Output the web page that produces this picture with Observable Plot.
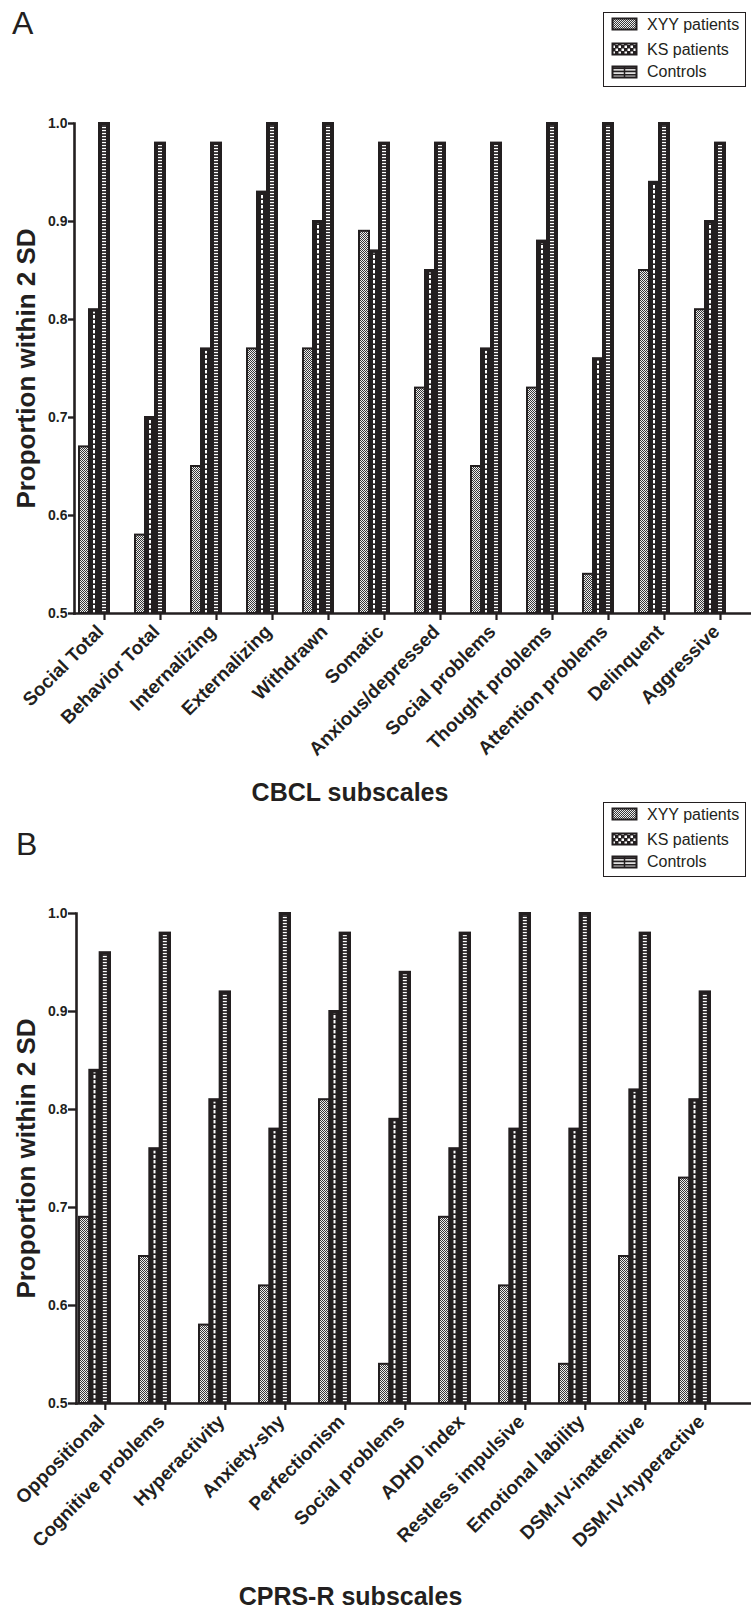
<!DOCTYPE html>
<html>
<head>
<meta charset="utf-8">
<script src="https://cdn.jsdelivr.net/npm/d3@7"></script>
<script src="https://cdn.jsdelivr.net/npm/@observablehq/plot@0.6"></script>
<style>
  html, body { margin: 0; padding: 0; background: #fff; }
  body { width: 751px; font-family: Arial, "Liberation Sans", Helvetica, sans-serif; color: #231f20; }
  .panel { position: relative; width: 751px; }
  .panel > svg { display: block; }
  .letter { position: absolute; font-size: 32px; line-height: 1; }
  svg text { font-family: Arial, "Liberation Sans", Helvetica, sans-serif; }
</style>
</head>
<body>
<svg width="0" height="0" style="position:absolute">
  <defs>
    <pattern id="pXYY" width="2" height="2" patternUnits="userSpaceOnUse">
      <rect width="2" height="2" fill="#eeeeee"/>
      <rect width="1" height="1" fill="#383838"/>
      <rect x="1" y="1" width="1" height="1" fill="#383838"/>
    </pattern>
    <pattern id="pKS" width="10" height="5" patternUnits="userSpaceOnUse">
      <rect width="10" height="5" fill="#231f20"/>
      <rect width="10" height="3.4" fill="#ffffff"/>
    </pattern>
    <pattern id="pCtrl" width="10" height="3" patternUnits="userSpaceOnUse">
      <rect width="10" height="3" fill="#231f20"/>
      <rect y="0.9" width="10" height="1.3" fill="#ffffff"/>
    </pattern>
    <pattern id="pKSsw" width="6" height="6" patternUnits="userSpaceOnUse">
      <rect width="6" height="6" fill="#231f20"/>
      <rect x="0.5" y="0.5" width="2.5" height="2.5" fill="#ffffff"/>
      <rect x="3.5" y="3.5" width="2.5" height="2.5" fill="#ffffff"/>
    </pattern>
    <pattern id="pCtrlsw" width="6" height="3.3" patternUnits="userSpaceOnUse">
      <rect width="6" height="3.3" fill="#231f20"/>
      <rect y="1" width="6" height="1.4" fill="#ffffff"/>
    </pattern>
  </defs>
</svg>
<div id="panelA" class="panel"></div>
<div id="panelB" class="panel"></div>
<script>
// ---------- data ----------
const series = ["XYY patients", "KS patients", "Controls"];
const yTicks = [0.5, 0.6, 0.7, 0.8, 0.9, 1.0];

const cbclCats = ["Social Total", "Behavior Total", "Internalizing", "Externalizing", "Withdrawn", "Somatic",
  "Anxious/depressed", "Social problems", "Thought problems", "Attention problems", "Delinquent", "Aggressive"];
const cbclXYY  = [0.67, 0.58, 0.65, 0.77, 0.77, 0.89, 0.73, 0.65, 0.73, 0.54, 0.85, 0.81];
const cbclKS   = [0.81, 0.70, 0.77, 0.93, 0.90, 0.87, 0.85, 0.77, 0.88, 0.76, 0.94, 0.90];
const cbclCtrl = [1.00, 0.98, 0.98, 1.00, 1.00, 0.98, 0.98, 0.98, 1.00, 1.00, 1.00, 0.98];

const cprsCats = ["Oppositional", "Cognitive problems", "Hyperactivity", "Anxiety-shy", "Perfectionism",
  "Social problems", "ADHD index", "Restless impulsive", "Emotional lability", "DSM-IV-inattentive", "DSM-IV-hyperactive"];
const cprsXYY  = [0.69, 0.65, 0.58, 0.62, 0.81, 0.54, 0.69, 0.62, 0.54, 0.65, 0.73];
const cprsKS   = [0.84, 0.76, 0.81, 0.78, 0.90, 0.79, 0.76, 0.78, 0.78, 0.82, 0.81];
const cprsCtrl = [0.96, 0.98, 0.92, 1.00, 0.98, 0.94, 0.98, 1.00, 1.00, 0.98, 0.92];

const INK = "#231f20";
const FONT = 'Arial, "Liberation Sans", Helvetica, sans-serif';

function legendSVG() {
  const ns = "http://www.w3.org/2000/svg";
  const rows = [
    {label: series[0], fill: "url(#pXYY)"},
    {label: series[1], fill: "url(#pKSsw)"},
    {label: series[2], fill: "url(#pCtrlsw)"}
  ];
  let s = `<svg xmlns="${ns}" width="144" height="76" style="position:absolute;left:603px;top:12px">`;
  s += `<rect x="0.5" y="0.5" width="142" height="74" fill="#fff" stroke="${INK}" stroke-width="1"/>`;
  const ys = [6, 31, 54];
  const bs = [18, 43, 65];
  rows.forEach((r, i) => {
    s += `<rect x="9.5" y="${ys[i] + 0.5}" width="24" height="11" fill="${r.fill}" stroke="${INK}" stroke-width="2"/>`;
    if (i === 2) s += `<line x1="21.5" x2="21.5" y1="${ys[i]}" y2="${ys[i] + 12}" stroke="${INK}" stroke-width="1.5"/>`;
    s += `<text x="44" y="${bs[i]}" font-size="16" fill="${INK}" font-family='${FONT}'>${r.label}</text>`;
  });
  s += `</svg>`;
  return s;
}

function panel(el, letter, letterTop, letterLeft, cats, xyy, ks, ctrl, cfg) {
  const data = cats.flatMap((c, i) => [
    {cat: c, group: series[0], v: xyy[i]},
    {cat: c, group: series[1], v: ks[i]},
    {cat: c, group: series[2], v: ctrl[i]}
  ]);
  const n = cats.length;
  const R = cfg.width - cfg.ml;
  const s = cfg.step, b = cfg.band;
  const pi = 1 - b / s;
  const po = (R / s - n + pi) / 2;
  const L = R - s * (n - 1) - b;
  const align = cfg.leftGap / L;
  const w = b / 3;
  const yMin = yTicks[0];
  const by = g => data.filter(d => d.group === g);

  const chart = Plot.plot({
    width: cfg.width,
    height: cfg.height,
    marginLeft: cfg.ml,
    marginRight: 0,
    marginTop: cfg.mt,
    marginBottom: cfg.mb,
    style: {fontFamily: FONT, color: INK, background: "transparent", overflow: "visible"},
    x: {domain: cats, paddingInner: pi, paddingOuter: po, align, axis: null},
    y: {domain: [yMin, yTicks[yTicks.length - 1]], axis: null},
    marks: [
      // XYY bars
      Plot.barY(by(series[0]), {x: "cat", y1: yMin, y2: "v", fill: "url(#pXYY)", stroke: INK, strokeWidth: 2,
        insetLeft: 0, insetRight: 2 * w}),
      // KS bars
      Plot.barY(by(series[1]), {x: "cat", y1: yMin, y2: "v", fill: INK, stroke: INK, strokeWidth: 2,
        insetLeft: w, insetRight: w}),
      Plot.barY(by(series[1]), {x: "cat", y1: yMin, y2: "v", fill: "url(#pKS)",
        insetLeft: b / 2 - 1, insetRight: b / 2 - 1, insetTop: 2.5}),
      // Controls bars
      Plot.barY(by(series[2]), {x: "cat", y1: yMin, y2: "v", fill: INK, stroke: INK, strokeWidth: 2,
        insetLeft: 2 * w, insetRight: 0}),
      Plot.barY(by(series[2]), {x: "cat", y1: yMin, y2: "v", fill: "url(#pCtrl)",
        insetLeft: 5 * b / 6 - 2, insetRight: b / 6 - 2, insetTop: 2.5}),
      // axes
      Plot.frame({anchor: "left", stroke: INK, strokeWidth: 2.6}),
      Plot.frame({anchor: "bottom", stroke: INK, strokeWidth: 2.6}),
      Plot.axisY({ticks: yTicks, tickFormat: d => d.toFixed(1), tickSize: cfg.yTick, tickPadding: 1,
        fontSize: 14, fontWeight: "bold", stroke: INK, strokeWidth: 2.4, fill: INK, label: null}),
      // x tick marks (at the Controls bar of each group)
      Plot.axisX({tickSize: 7, dx: w, tickFormat: () => "", stroke: INK, strokeWidth: 2.2, label: null}),
      // x tick labels
      Plot.axisX({tickRotate: -45, tickSize: 0, tickPadding: cfg.xPad, dx: w + cfg.xLabDx, fontSize: 19,
        fontWeight: "bold", fill: INK, label: null}),
      Plot.text([cfg.yLabel], {text: d => d, frameAnchor: "left", dx: cfg.yLabelDx, rotate: -90,
        fontSize: 26, fontWeight: "bold", fill: INK, textAnchor: "middle", lineAnchor: "middle"}),
      Plot.text([cfg.xLabel], {text: d => d, frameAnchor: "bottom-left", dx: cfg.xLabelDx, dy: cfg.xLabelDy,
        fontSize: 25, fontWeight: "bold", fill: INK, textAnchor: "middle", lineAnchor: "bottom"})
    ]
  });
  el.appendChild(chart);
  const lt = document.createElement("div");
  lt.className = "letter";
  lt.style.top = letterTop + "px";
  lt.style.left = letterLeft + "px";
  lt.textContent = letter;
  el.appendChild(lt);
  el.insertAdjacentHTML("beforeend", legendSVG());
}

panel(document.getElementById("panelA"), "A", 7, 12, cbclCats, cbclXYY, cbclKS, cbclCtrl, {
  width: 751, height: 790, ml: 74, mt: 123, mb: 177,
  step: 56.36, band: 30, leftGap: 4, yTick: 6, xPad: 15, xLabDx: -4,
  yLabel: "Proportion within 2 SD", yLabelDx: -48,
  xLabel: "CBCL subscales", xLabelDx: 275.5, xLabelDy: 187
});
panel(document.getElementById("panelB"), "B", 38, 16, cprsCats, cprsXYY, cprsKS, cprsCtrl, {
  width: 751, height: 818, ml: 76, mt: 123, mb: 205,
  step: 60.6, band: 31, leftGap: 3, yTick: 8, xPad: 15, xLabDx: -4,
  yLabel: "Proportion within 2 SD", yLabelDx: -50,
  xLabel: "CPRS-R subscales", xLabelDx: 274, xLabelDy: 201
});
</script>
</body>
</html>
